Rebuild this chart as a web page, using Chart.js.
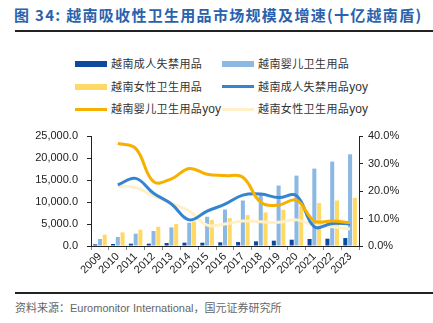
<!DOCTYPE html>
<html>
<head>
<meta charset="utf-8">
<script src="https://cdn.jsdelivr.net/npm/chart.js"></script>
<style>
  body { margin: 0; background: #fff; width: 433px; height: 323px; overflow: hidden; position: relative; font-family: "Noto Sans CJK SC", "Liberation Sans", sans-serif; }
  #title { position: absolute; left: 14px; top: 4px; font-size: 15px; font-weight: bold; color: #2a62ad; letter-spacing: 1.3px; white-space: nowrap; }
  .rule { position: absolute; left: 15px; width: 418px; height: 2px; background: #222; }
  #legend { position: absolute; left: 0; top: 0; }
  .lg { position: absolute; font-size: 11px; color: #333; white-space: nowrap; line-height: 14px; letter-spacing: 0.4px; }
  .sw { position: absolute; }
  #source { position: absolute; left: 15px; top: 299px; font-size: 11px; color: #666; white-space: nowrap; }
  #wrap { position: absolute; left: 0; top: 120px; width: 433px; height: 170px; }
</style>
</head>
<body>
<div id="title">图 34: 越南吸收性卫生用品市场规模及增速(十亿越南盾)</div>
<div class="rule" style="top:30px"></div>
<div id="legend"></div>
<div id="wrap"><canvas id="chart"></canvas></div>
<div class="rule" style="top:292px"></div>
<div id="source">资料来源：<span style="font-family:'Liberation Sans',sans-serif">Euromonitor International</span>，国元证券研究所</div>
<script>
const years = ['2009', '2010', '2011', '2012', '2013', '2014', '2015', '2016', '2017', '2018', '2019', '2020', '2021', '2022', '2023'];

// market size, billion VND
const adultIncontinence = [380, 450, 530, 530, 680, 760, 750, 830, 900, 1060, 1210, 1430, 1590, 1660, 1810];
const babyHygiene = [1590, 2040, 2790, 3400, 4230, 5290, 6640, 8300, 10340, 11700, 13740, 16000, 17590, 19180, 20840];
const femHygiene = [2570, 3100, 3700, 4380, 4980, 5590, 5890, 6340, 7020, 7630, 8230, 9060, 9740, 10340, 10950];

// growth rates, %
const adultYoy = [null, 22.2, 24.6, 19.2, 15.3, 9.5, 12.7, 15.2, 18.5, 18.9, 17.6, 18.3, 7.0, 8.2, 8.0];
const babyYoy = [null, 37.3, 35.5, 23.4, 24.4, 28.2, 26.1, 25.6, 25.0, 15.9, 14.9, 16.7, 9.1, 9.1, 8.5];
const femYoy = [null, 21.6, 21.3, 18.2, 15.5, 12.7, 7.6, 8.0, 9.1, 8.8, 8.6, 9.5, 7.6, 7.0, 6.2];

const names = ['越南成人失禁用品', '越南婴儿卫生用品', '越南女性卫生用品', '越南成人失禁用品yoy', '越南婴儿卫生用品yoy', '越南女性卫生用品yoy'];
const colors = ['#0b4a9c', '#8cb9e3', '#ffd966', '#3484d2', '#f6b100', '#fff0c9'];

// two-column legend above the plot
const legend = document.getElementById('legend');
names.forEach((name, i) => {
  const col = i % 2, row = Math.floor(i / 2);
  const isLine = i >= 3;
  const cy = 64 + row * 22.5;
  const sx = col ? 222 : 75;
  const sw = document.createElement('div');
  sw.className = 'sw';
  const h = isLine ? 3 : 6;
  sw.style.cssText = `left:${sx}px;top:${cy - h / 2}px;width:32px;height:${h}px;background:${colors[i]}`;
  legend.appendChild(sw);
  const t = document.createElement('div');
  t.className = 'lg';
  t.style.left = (sx + 36) + 'px';
  t.style.top = (cy - 8) + 'px';
  t.innerHTML = name.replace('yoy', '<span style="font-family:Liberation Sans,sans-serif;font-size:12px;letter-spacing:0">yoy</span>');
  legend.appendChild(t);
});

const tickFont = { family: 'Liberation Sans, Arial, sans-serif', size: 11 };

function barSet(label, data, color) {
  return { type: 'bar', label, data, backgroundColor: color, yAxisID: 'y', order: 10,
           categoryPercentage: 0.8, barPercentage: 0.85 };
}
function lineSet(label, data, color, order) {
  return { type: 'line', label, data, borderColor: color, backgroundColor: color, yAxisID: 'y1',
           borderWidth: 3, pointRadius: 0, tension: 0.4, fill: false, order };
}

new Chart(document.getElementById('chart'), {
  data: {
    labels: years,
    datasets: [
      barSet(names[0], adultIncontinence, colors[0]),
      barSet(names[1], babyHygiene, colors[1]),
      barSet(names[2], femHygiene, colors[2]),
      lineSet(names[3], adultYoy, colors[3], 2),
      lineSet(names[4], babyYoy, colors[4], 1),
      lineSet(names[5], femYoy, colors[5], 3)
    ]
  },
  options: {
    responsive: true,
    maintainAspectRatio: false,
    animation: false,
    layout: { padding: { top: 16, bottom: 0, left: 0, right: 0 } },
    plugins: { legend: { display: false }, tooltip: { enabled: false } },
    scales: {
      x: {
        offset: true,
        grid: { display: true, drawOnChartArea: false, drawTicks: true, tickLength: 4, color: '#888', offset: true },
        border: { display: true, color: '#222' },
        ticks: { font: tickFont, color: '#222', maxRotation: 45, minRotation: 45, padding: 0, autoSkip: false },
        afterFit: s => { s.height = 44; }
      },
      y: {
        position: 'left',
        min: 0, max: 25000,
        ticks: { stepSize: 5000, font: tickFont, color: '#222', padding: 9,
                 callback: v => v.toLocaleString('en-US', { minimumFractionDigits: 1, maximumFractionDigits: 1 }) },
        grid: { drawOnChartArea: false, drawTicks: true, tickLength: 4, color: '#222' },
        border: { display: true, color: '#222' },
        afterFit: s => { s.width = 91; }
      },
      y1: {
        position: 'right',
        min: 0, max: 40,
        ticks: { stepSize: 5, font: tickFont, color: '#222', padding: 5,
                 callback: v => v.toFixed(1) + '%' },
        grid: { drawOnChartArea: false, drawTicks: true, tickLength: 4, color: '#222' },
        border: { display: true, color: '#222' },
        afterFit: s => { s.width = 74; }
      }
    }
  }
});
</script>
</body>
</html>
